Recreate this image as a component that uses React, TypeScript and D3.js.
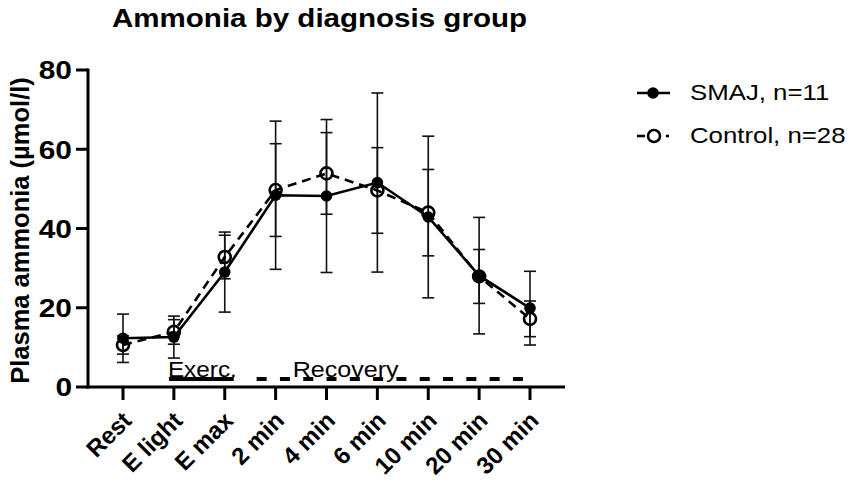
import React from "react";
import * as d3 from "d3";

const categories = ["Rest", "E light", "E max", "2 min", "4 min", "6 min", "10 min", "20 min", "30 min"];
const smajMean = [12.3, 12.6, 29.0, 48.4, 48.2, 51.6, 42.9, 28.1, 19.9];
const smajErr = [6.1, 5.3, 10.1, 18.7, 19.3, 22.6, 20.4, 14.7, 9.3];
const controlMean = [10.6, 13.9, 32.8, 49.7, 53.9, 49.6, 44.0, 27.9, 17.2];
const controlErr = [2.3, 3.1, 5.5, 11.7, 10.3, 10.8, 10.9, 6.8, 4.5];
const yTicks = [0, 20, 40, 60, 80];
const legendLabels = ["SMAJ, n=11", "Control, n=28"];
const phaseLabels = ["Exerc.", "Recovery"];

const W = 851;
const H = 481;
const FONT = "'Liberation Sans', Arial, Helvetica, sans-serif";

export default function App() {
  const x = d3.scalePoint<string>().domain(categories).range([123, 530]);
  const y = d3.scaleLinear().domain([0, 80]).range([387, 70]);
  const axisLeft = 88;
  const axisRight = 565;
  const axisY = y(0);

  const line = d3
    .line<number>()
    .x((_, i) => x(categories[i]) as number)
    .y((d) => y(d));

  const errBars = (means: number[], errs: number[], key: string) =>
    means.map((m, i) => {
      const cx = x(categories[i]) as number;
      const top = y(m + errs[i]);
      const bot = y(m - errs[i]);
      return (
        <g key={key + i} stroke="#111" strokeWidth={1.6}>
          <line x1={cx} x2={cx} y1={top} y2={bot} />
          <line x1={cx - 6} x2={cx + 6} y1={top} y2={top} />
          <line x1={cx - 6} x2={cx + 6} y1={bot} y2={bot} />
        </g>
      );
    });

  const xE0 = x("E light") as number;
  const xE1 = x("E max") as number;
  const x2 = x("2 min") as number;
  const x30 = x("30 min") as number;
  const phaseY = y(2);

  return (
    <svg
      width={W}
      height={H}
      style={{ position: "absolute", left: 0, top: 0, background: "#fff" }}
      fontFamily={FONT}
    >
      <rect width={W} height={H} fill="#fff" />
      <text
        x={112}
        y={27}
        fontSize={26}
        fontWeight="bold"
        fill="#000"
        textLength={415}
        lengthAdjust="spacingAndGlyphs"
      >
        Ammonia by diagnosis group
      </text>

      <text
        transform={`translate(29,${(y(0) + y(80)) / 2 + 2}) rotate(-90)`}
        textAnchor="middle"
        fontSize={25.5}
        fontWeight="bold"
        fill="#000"
      >
        Plasma ammonia (µmol/l)
      </text>

      <line x1={axisLeft} x2={axisLeft} y1={y(80) - 1.5} y2={axisY + 1.5} stroke="#000" strokeWidth={3} />
      {yTicks.map((t) => (
        <g key={"yt" + t}>
          <line x1={axisLeft - 12} x2={axisLeft} y1={y(t)} y2={y(t)} stroke="#000" strokeWidth={3} />
          <text
            transform={`translate(72,${y(t)}) scale(1.15,1)`}
            dy="0.36em"
            textAnchor="end"
            fontSize={26}
            fontWeight="bold"
            fill="#000"
          >
            {t}
          </text>
        </g>
      ))}

      <line x1={axisLeft - 1.5} x2={axisRight} y1={axisY} y2={axisY} stroke="#000" strokeWidth={3} />
      {categories.map((c) => (
        <g key={"xt" + c}>
          <line x1={x(c)} x2={x(c)} y1={axisY} y2={axisY + 13} stroke="#000" strokeWidth={3} />
          <text
            transform={`translate(${(x(c) as number) + 10},${axisY + 35}) rotate(-45)`}
            textAnchor="end"
            fontSize={24}
            fontWeight="bold"
            fill="#000"
          >
            {c}
          </text>
        </g>
      ))}

      <line x1={xE0 - 5} x2={xE1 + 9} y1={phaseY} y2={phaseY} stroke="#000" strokeWidth={4} />
      <line
        x1={x2 - 19}
        x2={x30}
        y1={phaseY}
        y2={phaseY}
        stroke="#000"
        strokeWidth={4}
        strokeDasharray="10,13.3"
      />
      <text
        x={xE0 - 6}
        y={phaseY - 2}
        fontSize={22}
        fill="#000"
        textLength={69}
        lengthAdjust="spacingAndGlyphs"
      >
        {phaseLabels[0]}
      </text>
      <text
        x={x2 + 17}
        y={phaseY - 2}
        fontSize={22}
        fill="#000"
        textLength={106}
        lengthAdjust="spacingAndGlyphs"
      >
        {phaseLabels[1]}
      </text>

      {errBars(controlMean, controlErr, "c")}
      {errBars(smajMean, smajErr, "s")}

      <path
        d={line(controlMean) || ""}
        fill="none"
        stroke="#000"
        strokeWidth={2.6}
        strokeDasharray="9,6"
      />
      {controlMean.map((m, i) => (
        <circle
          key={"cc" + i}
          cx={x(categories[i])}
          cy={y(m)}
          r={6}
          fill="none"
          stroke="#000"
          strokeWidth={2.6}
        />
      ))}

      <path d={line(smajMean) || ""} fill="none" stroke="#000" strokeWidth={2.6} />
      {smajMean.map((m, i) => (
        <circle key={"sc" + i} cx={x(categories[i])} cy={y(m)} r={5.8} fill="#000" />
      ))}

      <g>
        <line x1={637} x2={670} y1={93} y2={93} stroke="#000" strokeWidth={2.6} />
        <circle cx={653} cy={93} r={5.8} fill="#000" />
        <text transform={`translate(690,100) scale(1.2,1)`} fontSize={21.5} fill="#000">
          {legendLabels[0]}
        </text>
        <line x1={637} x2={645} y1={136} y2={136} stroke="#000" strokeWidth={2.6} />
        <line x1={666} x2={669} y1={136} y2={136} stroke="#000" strokeWidth={2.6} />
        <circle cx={654} cy={136} r={6} fill="none" stroke="#000" strokeWidth={2.6} />
        <text transform={`translate(690,143) scale(1.2,1)`} fontSize={21.5} fill="#000">
          {legendLabels[1]}
        </text>
      </g>
    </svg>
  );
}
